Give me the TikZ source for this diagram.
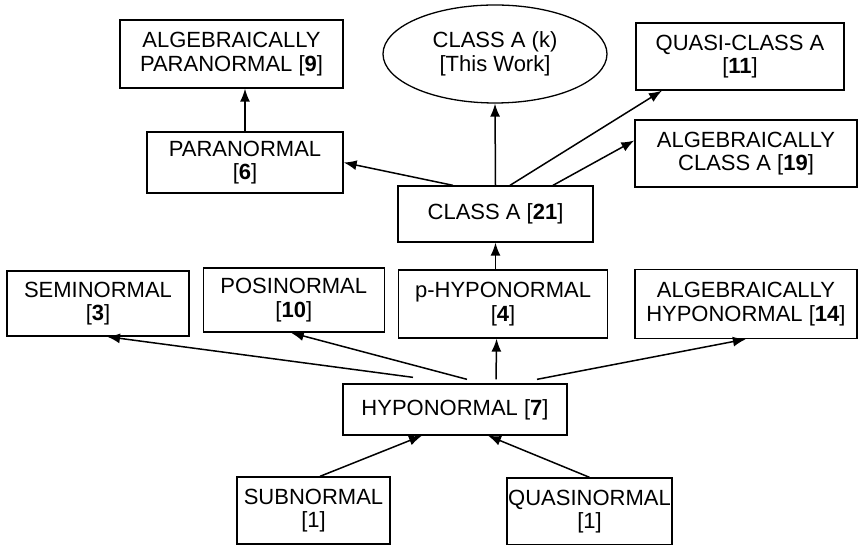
\documentclass[tikz,border=0pt]{standalone}
\usepackage{fontspec}
\setmainfont{Liberation Sans}
\usetikzlibrary{shapes.geometric, arrows.meta, positioning, calc}

\begin{document}
\begin{tikzpicture}[x=1pt, y=1pt, ->, >={Latex[length=13pt, width=10pt]}, line width=1.5pt,
        box/.style={draw, rectangle, inner sep=0pt, align=center, line width=1.3pt,
            font=\fontsize{22}{23.5}\selectfont},
        oval/.style={draw, ellipse, inner sep=0pt, align=center, line width=1.3pt,
            font=\fontsize{22}{23.5}\selectfont}]
        \useasboundingbox (0,0) rectangle (863,545);

        % Top row
        \node[box, minimum width=223, minimum height=68] (algpara) at (231.5,491) {ALGEBRAICALLY\\PARANORMAL [\textbf{9}]};
        \node[oval, minimum width=224, minimum height=98] (classk) at (495,491) {CLASS A (k)\\{[This Work]}};
        \node[box, minimum width=208, minimum height=67] (quasia) at (740,488.5) {QUASI-CLASS A\\{[\textbf{11}]}};

        % Class A level
        \node[box, minimum width=196, minimum height=61] (para) at (245,382.5) {PARANORMAL\\{[\textbf{6}]}};
        \node[box, minimum width=222, minimum height=67] (alga) at (746,391.5) {ALGEBRAICALLY\\CLASS A [\textbf{19}]};
        \node[box, minimum width=195, minimum height=56] (classa) at (495.5,331) {CLASS A [\textbf{21}]};

        % Middle row
        \node[box, minimum width=182, minimum height=65] (semi) at (98,241.5) {SEMINORMAL\\{[\textbf{3}]}};
        \node[box, minimum width=181, minimum height=64, right=13 of semi, yshift=3.5] (posi) {POSINORMAL\\{[\textbf{10}]}};
        \node[box, minimum width=209, minimum height=68, right=13 of posi, yshift=-4] (phypo) {p-HYPONORMAL\\{[\textbf{4}]}};
        \node[box, minimum width=222, minimum height=69, right=26 of phypo] (alghypo) {ALGEBRAICALLY\\HYPONORMAL [\textbf{14}]};

        % Bottom
        \node[box, minimum width=224, minimum height=51] (hypo) at (455,135.5) {HYPONORMAL [\textbf{7}]};
        \node[box, minimum width=153, minimum height=67] (sub) at (313.5,34.5) {SUBNORMAL\\{[1]}};
        \node[box, minimum width=165, minimum height=67] (quasin) at (589.5,33.5) {QUASINORMAL\\{[1]}};

        % Inclusions above class A
        \draw (para.north) -- (para.north |- algpara.south);
        \draw ([xshift=-42.5]classa.north) -- (para.east);
        \draw (classa.north) -- (classk.south);
        \draw ([xshift=14.5]classa.north) -- ([xshift=-78]quasia.south);
        \draw ([xshift=57.5]classa.north) -- ([yshift=13]alga.west);
        \draw (phypo.north -| classa.south) -- (classa.south);

        % Inclusions above hyponormal
        \draw ([xshift=-42, yshift=6]hypo.north) -- ([xshift=9]semi.south);
        \draw ([xshift=12, yshift=4]hypo.north) -- ([xshift=-3]posi.south);
        \draw ([xshift=41, yshift=4]hypo.north) -- ([xshift=-6.5]phypo.south);
        \draw ([xshift=82, yshift=4]hypo.north) -- (alghypo.south);

        % Below hyponormal
        \draw ([xshift=6.5]sub.north) -- ([xshift=-33]hypo.south);
        \draw (quasin.north) -- ([xshift=33]hypo.south);
    \end{tikzpicture}
\end{document}
